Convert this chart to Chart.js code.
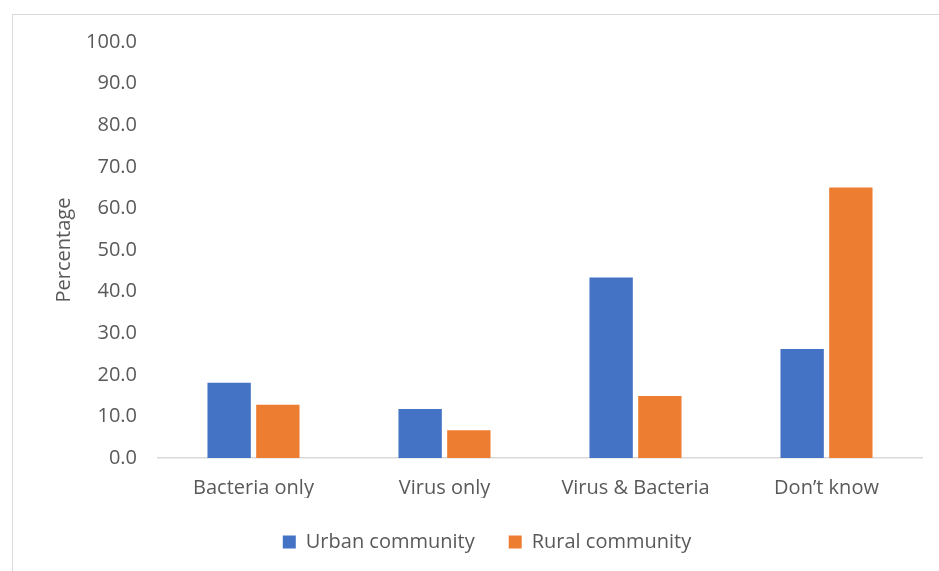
<!DOCTYPE html>
<html>
<head>
<meta charset="utf-8">
<script src="https://cdn.jsdelivr.net/npm/chart.js@4"></script>
<style>
  html, body { margin: 0; padding: 0; background: #fff; }
  #wrap { position: relative; width: 939px; height: 571px; }
  #frame { position: absolute; left: 12px; top: 14px; width: 940px; height: 600px; border: 1px solid #d9d9d9; box-sizing: border-box; }
  canvas { position: absolute; left: 0; top: 0; }
</style>
</head>
<body>
<div id="wrap">
  <div id="frame"></div>
  <canvas id="myChart" width="939" height="571"></canvas>
</div>
<script>
// categories and series
const categories = ['Bacteria only', 'Virus only', 'Virus & Bacteria', 'Don\u2019t know'];
const urban = [18.1, 11.8, 43.4, 26.2];
const rural = [12.8, 6.7, 14.9, 65.0];

const fontFam = '"Open Sans", Lato, sans-serif';

const data = {
  labels: categories,
  datasets: [{
    label: 'Urban community',
    data: urban,
    backgroundColor: '#4472c4',
    barPercentage: 0.89,
    categoryPercentage: 0.51
  }, {
    label: 'Rural community',
    data: rural,
    backgroundColor: '#ed7d31',
    barPercentage: 0.89,
    categoryPercentage: 0.51
  }]
};

const config = {
  type: 'bar',
  data: data,
  options: {
    responsive: false,
    animation: false,
    layout: { padding: { left: 52, right: 17, top: 42, bottom: 9 } },
    plugins: {
      legend: {
        position: 'bottom',
        labels: {
          color: '#595959',
          font: { family: fontFam, size: 20 },
          boxWidth: 13,
          boxHeight: 13,
          padding: 34
        }
      },
      tooltip: { enabled: false }
    },
    scales: {
      x: {
        grid: { display: false },
        border: { color: '#d9d9d9', width: 1.5 },
        ticks: { color: '#595959', font: { family: fontFam, size: 20 }, padding: 10 },
        afterFit: s => { s.height -= 12; }
      },
      y: {
        min: 0,
        max: 100,
        grid: { display: false },
        border: { display: false },
        ticks: {
          stepSize: 10,
          color: '#595959',
          font: { family: fontFam, size: 20 },
          padding: 13,
          callback: v => v.toFixed(1)
        },
        title: {
          display: true,
          text: 'Percentage',
          color: '#595959',
          font: { family: fontFam, size: 20 },
          padding: 0
        },
        afterFit: s => { s.width = 106; }
      }
    }
  }
};

var ctx = document.getElementById('myChart').getContext('2d');
var myChart = new Chart(ctx, config);
</script>
</body>
</html>
